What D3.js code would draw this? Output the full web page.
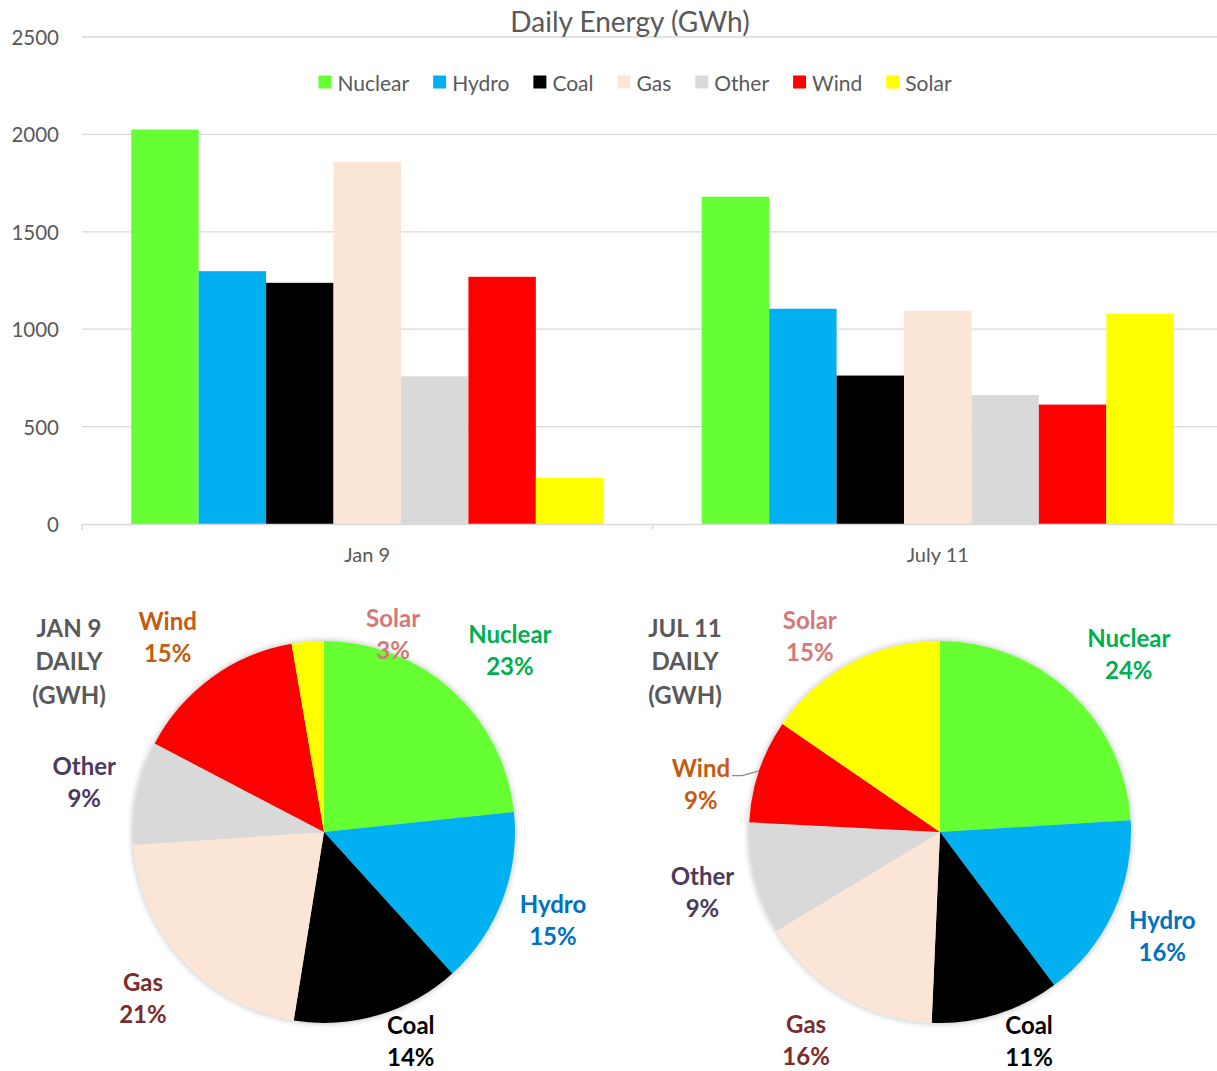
<!DOCTYPE html>
<html>
<head>
<meta charset="utf-8">
<script src="https://cdn.jsdelivr.net/npm/d3@7/dist/d3.min.js"></script>
<style>
  html, body { margin: 0; padding: 0; background: #fff; }
  svg { display: block; font-family: Lato, "Open Sans", sans-serif; }
</style>
</head>
<body>
<svg id="chart" width="1217" height="1071"></svg>
<script>
// ---- data ----
const categories = ["Jan 9", "July 11"];
const sources = ["Nuclear", "Hydro", "Coal", "Gas", "Other", "Wind", "Solar"];
const jan9 = [2025, 1298, 1238, 1858, 758, 1269, 236];
const jul11 = [1680, 1105, 762, 1095, 662, 613, 1080];
const yTicks = [0, 500, 1000, 1500, 2000, 2500];
const pieTitles = [["JAN 9", "DAILY", "(GWH)"], ["JUL 11", "DAILY", "(GWH)"]];

// ---- styles ----
const fillColors = ["#66FF33", "#00B0F0", "#000000", "#FBE5D6", "#D9D9D9", "#FF0000", "#FFFF00"];
const labelColors = ["#00B050", "#0070C0", "#000000", "#7B2C2C", "#4A3A60", "#C55A11", "#D47878"];
const textGrey = "#595959";
const gridGrey = "#D9D9D9";

const svg = d3.select("#chart");
const series = [jan9, jul11];

// ---- bar chart ----
const y = d3.scaleLinear().domain([0, 2500]).range([524, 37]);
const x0 = d3.scaleBand().domain(categories).range([82, 1223]).paddingInner(0).paddingOuter(0);
const x1 = d3.scaleBand().domain(sources).range([0, x0.bandwidth()]).paddingInner(0).paddingOuter(0.73);

// gridlines
svg.append("g").selectAll("line").data(yTicks.filter(d => d > 0)).join("line")
  .attr("x1", 82).attr("x2", 1217)
  .attr("y1", d => y(d)).attr("y2", d => y(d))
  .attr("stroke", gridGrey).attr("stroke-width", 1.3);

// y tick labels
svg.append("g").selectAll("text").data(yTicks).join("text")
  .attr("x", 59).attr("y", d => y(d))
  .attr("text-anchor", "end").attr("dominant-baseline", "central")
  .attr("fill", textGrey).attr("font-size", 20.5)
  .text(d => d);

// bars
const groups = svg.append("g").selectAll("g").data(categories).join("g")
  .attr("transform", c => `translate(${x0(c)},0)`);
groups.selectAll("rect")
  .data((c, i) => sources.map((s, j) => ({ s, j, v: series[i][j] })))
  .join("rect")
  .attr("x", d => x1(d.s))
  .attr("width", x1.bandwidth())
  .attr("y", d => y(d.v))
  .attr("height", d => y(0) - y(d.v))
  .attr("fill", d => fillColors[d.j]);

// category axis
const xAxis = d3.axisBottom(x0).tickSize(0).tickPadding(24);
const xg = svg.append("g").attr("transform", `translate(0,${y(0)})`).call(xAxis);
xg.select(".domain").attr("stroke", gridGrey).attr("stroke-width", 1.5);
xg.selectAll("text").attr("fill", textGrey).attr("font-size", 20).attr("font-family", "Lato, sans-serif");
// boundary tick marks between categories
svg.append("g").selectAll("line").data([82, x0.step() + 82]).join("line")
  .attr("x1", d => d).attr("x2", d => d)
  .attr("y1", y(0)).attr("y2", y(0) + 6)
  .attr("stroke", gridGrey).attr("stroke-width", 1.5);

// title
svg.append("text").attr("x", 630).attr("y", 21)
  .attr("text-anchor", "middle").attr("dominant-baseline", "central")
  .attr("fill", textGrey).attr("font-size", 28)
  .text("Daily Energy (GWh)");

// legend
const legend = svg.append("g");
let lx = 0;
sources.forEach((s, i) => {
  const item = legend.append("g").attr("transform", `translate(${lx},0)`);
  item.append("rect").attr("x", 0).attr("y", -6.5).attr("width", 13).attr("height", 13).attr("fill", fillColors[i]);
  const t = item.append("text").attr("x", 19).attr("y", 0)
    .attr("dominant-baseline", "central").attr("fill", textGrey).attr("font-size", 21).text(s);
  lx += 19 + t.node().getComputedTextLength() + 24;
});
const legendW = lx - 24;
legend.attr("transform", `translate(${635 - legendW / 2},82)`);

// ---- pies ----
const defs = svg.append("defs");
defs.append("filter").attr("id", "pieShadow").attr("x", "-10%").attr("y", "-10%").attr("width", "120%").attr("height", "120%")
  .append("feDropShadow").attr("dx", 0).attr("dy", 0).attr("stdDeviation", 3)
  .attr("flood-color", "#000").attr("flood-opacity", 0.3);

const radius = 191;
const labelRadius = 245;
const pieCenters = [[324, 832], [940, 832]];
const pie = d3.pie().sort(null).value(d => d);
const arc = d3.arc().innerRadius(0).outerRadius(radius);

// per-label adjustments (best-fit placement around the pie)
const nudges = [
  { Nuclear: [22, 0], Coal: [17, -26], Wind: [-12, 2], Solar: [90, 46] },
  { Nuclear: [21, 0], Coal: [17, -26], Gas: [-9, -3], Wind: [-7, 30], Solar: [-16, 20] }
];
const leaders = [{}, { Wind: true }];

series.forEach((vals, p) => {
  const [cx, cy] = pieCenters[p];
  const g = svg.append("g").attr("transform", `translate(${cx},${cy})`);
  const arcs = pie(vals);
  const total = d3.sum(vals);

  g.append("g").attr("filter", "url(#pieShadow)")
    .selectAll("path").data(arcs).join("path")
    .attr("d", arc)
    .attr("fill", (d, i) => fillColors[i]);

  // pie title
  g.append("g").selectAll("text").data(pieTitles[p]).join("text")
    .attr("x", -255).attr("y", (d, i) => -205 + i * 33.5)
    .attr("text-anchor", "middle").attr("dominant-baseline", "central")
    .attr("fill", textGrey).attr("font-size", 24).attr("font-weight", "bold")
    .text(d => d);

  // data labels
  arcs.forEach((a, i) => {
    const mid = (a.startAngle + a.endAngle) / 2;
    const nd = nudges[p][sources[i]] || [0, 0];
    const lxp = labelRadius * Math.sin(mid) + nd[0];
    const lyp = -labelRadius * Math.cos(mid) + nd[1];
    const pct = Math.round(vals[i] / total * 100) + "%";
    const lab = g.append("g");
    const t1 = lab.append("text").attr("x", lxp).attr("y", lyp - 16)
      .attr("text-anchor", "middle").attr("dominant-baseline", "central")
      .attr("fill", labelColors[i]).attr("font-size", 24).attr("font-weight", "bold")
      .text(sources[i]);
    lab.append("text").attr("x", lxp).attr("y", lyp + 16)
      .attr("text-anchor", "middle").attr("dominant-baseline", "central")
      .attr("fill", labelColors[i]).attr("font-size", 24).attr("font-weight", "bold")
      .text(pct);
    if (leaders[p][sources[i]]) {
      const w = t1.node().getComputedTextLength();
      const ex = radius * Math.sin(mid), ey = -radius * Math.cos(mid);
      const sx = lxp + w / 2 + 2, sy = lyp - 8;
      g.append("polyline")
        .attr("points", [[sx, sy], [sx + 10, sy], [ex, ey]].map(q => q.join(",")).join(" "))
        .attr("fill", "none").attr("stroke", "#8C8C8C").attr("stroke-width", 1.3);
    }
  });
});
</script>
</body>
</html>
